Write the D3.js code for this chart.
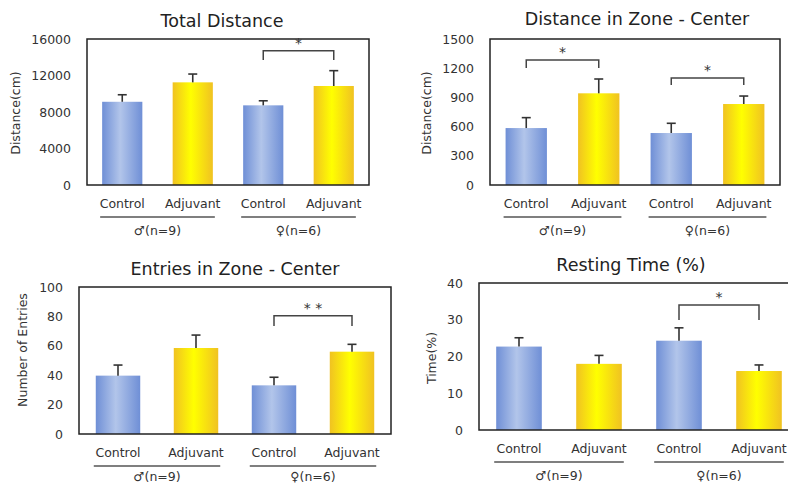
<!DOCTYPE html>
<html>
<head>
<meta charset="utf-8">
<script src="https://cdn.jsdelivr.net/npm/d3@7"></script>
<style>
  body { margin: 0; background: #fff; }
  svg { display: block; font-family: "DejaVu Sans", Verdana, sans-serif; }
</style>
</head>
<body>
<svg id="chart" width="788" height="485"></svg>
<script>
// data
const categories = ["Control", "Adjuvant", "Control", "Adjuvant"];
const groups = ["♂(n=9)", "♀(n=6)"];

const titles = ["Total Distance", "Distance in Zone - Center", "Entries in Zone - Center", "Resting Time (%)"];
const yLabels = ["Distance(cm)", "Distance(cm)", "Number of Entries", "Time(%)"];
const yMax = [16000, 1500, 100, 40];
const yStep = [4000, 300, 20, 10];

const totalDistance = [9120, 11250, 8730, 10850];
const totalDistanceErr = [770, 910, 500, 1680];
const centerDistance = [585, 942, 534, 832];
const centerDistanceErr = [107, 147, 100, 82];
const centerEntries = [39.7, 58.5, 33.1, 56];
const centerEntriesErr = [7.2, 8.8, 5.5, 5];
const restingTime = [22.7, 18.0, 24.3, 16.05];
const restingTimeErr = [2.4, 2.3, 3.5, 1.65];

// significance marks: [from bar, to bar, bracket level, leg end level, label]
const sigTotalDistance = [[2, 3, 14700, 13700, "*"]];
const sigCenterDistance = [[0, 1, 1284, 1202, "*"], [2, 3, 1099, 1027, "*"]];
const sigCenterEntries = [[2, 3, 80.5, 73.5, "* *"]];
const sigRestingTime = [[2, 3, 34, 29.9, "*"]];

const values = [totalDistance, centerDistance, centerEntries, restingTime];
const errors = [totalDistanceErr, centerDistanceErr, centerEntriesErr, restingTimeErr];
const sigs = [sigTotalDistance, sigCenterDistance, sigCenterEntries, sigRestingTime];

// panel placement
const layout = [
  {left: 87, top: 39, right: 369, bottom: 185, titleX: 222, titleY: 27, labX: 16, labY: 113},
  {left: 490, top: 39, right: 780, bottom: 185, titleX: 637, titleY: 25, labX: 427, labY: 113},
  {left: 79, top: 287, right: 391, bottom: 434, titleX: 235, titleY: 275, labX: 23, labY: 350},
  {left: 479, top: 283, right: 799, bottom: 430, titleX: 631, titleY: 271, labX: 432, labY: 358}
];

const svg = d3.select("#chart");
const defs = svg.append("defs");

function gradient(id, edge, mid) {
  const g = defs.append("linearGradient").attr("id", id)
    .attr("x1", "0%").attr("x2", "100%").attr("y1", "0%").attr("y2", "0%");
  g.append("stop").attr("offset", "0%").attr("stop-color", edge);
  g.append("stop").attr("offset", "45%").attr("stop-color", mid);
  g.append("stop").attr("offset", "100%").attr("stop-color", edge);
}
gradient("blueGrad", "#6f8fd6", "#b2c5ea");
gradient("goldGrad", "#f0c222", "#ffff00");
const fills = ["url(#blueGrad)", "url(#goldGrad)", "url(#blueGrad)", "url(#goldGrad)"];

layout.forEach((p, k) => {
  const g = svg.append("g");
  const data = values[k];
  const err = errors[k];

  const x = d3.scaleBand()
    .domain(d3.range(categories.length))
    .range([p.left, p.right])
    .paddingInner(0.43)
    .paddingOuter(0.215);
  const y = d3.scaleLinear()
    .domain([0, yMax[k]])
    .range([p.bottom, p.top]);

  // title
  g.append("text")
    .attr("x", p.titleX).attr("y", p.titleY)
    .attr("text-anchor", "middle")
    .style("font-size", "17.5px")
    .attr("fill", "#222")
    .text(titles[k]);

  // y axis labels
  const axis = g.append("g")
    .attr("transform", `translate(${p.left - 4}, 0)`)
    .call(d3.axisLeft(y)
      .tickValues(d3.range(0, yMax[k] + 1, yStep[k]))
      .tickFormat(d3.format("d"))
      .tickSize(0).tickPadding(12));
  axis.select(".domain").remove();
  axis.selectAll("text")
    .style("font-size", "12.5px")
    .style("font-family", "\"DejaVu Sans\", Verdana, sans-serif")
    .attr("fill", "#333");

  g.append("text")
    .attr("transform", `translate(${p.labX}, ${p.labY}) rotate(-90)`)
    .attr("text-anchor", "middle")
    .attr("dy", "0.35em")
    .style("font-size", "12.5px")
    .attr("fill", "#333")
    .text(yLabels[k]);

  // bars
  g.append("g").selectAll("rect")
    .data(data)
    .enter().append("rect")
      .attr("x", (d, i) => x(i))
      .attr("y", d => y(d))
      .attr("width", x.bandwidth())
      .attr("height", d => y(0) - y(d))
      .attr("fill", (d, i) => fills[i]);

  // error bars
  const eb = g.append("g").attr("stroke", "#333").attr("stroke-width", 1.6);
  data.forEach((d, i) => {
    const cx = x(i) + x.bandwidth() / 2;
    eb.append("line").attr("x1", cx).attr("x2", cx).attr("y1", y(d)).attr("y2", y(d + err[i]));
    eb.append("line").attr("x1", cx - 4.5).attr("x2", cx + 4.5).attr("y1", y(d + err[i])).attr("y2", y(d + err[i]));
  });

  // plot frame
  g.append("rect")
    .attr("x", p.left).attr("y", p.top)
    .attr("width", p.right - p.left).attr("height", p.bottom - p.top)
    .attr("fill", "none").attr("stroke", "#222").attr("stroke-width", 1.5);

  // significance brackets
  sigs[k].forEach(s => {
    const xa = x(s[0]) + x.bandwidth() / 2;
    const xb = x(s[1]) + x.bandwidth() / 2;
    g.append("path")
      .attr("d", `M${xa},${y(s[3])}V${y(s[2])}H${xb}V${y(s[3])}`)
      .attr("fill", "none").attr("stroke", "#444").attr("stroke-width", 1.5);
    g.append("text")
      .attr("x", (xa + xb) / 2).attr("y", y(s[2]) - 3)
      .attr("text-anchor", "middle")
      .style("font-size", "14px")
      .attr("fill", "#333")
      .text(s[4]);
  });

  // category labels
  g.append("g").selectAll("text")
    .data(categories)
    .enter().append("text")
      .attr("x", (d, i) => x(i) + x.bandwidth() / 2)
      .attr("y", p.bottom + 23)
      .attr("text-anchor", "middle")
      .style("font-size", "12.5px")
      .attr("fill", "#333")
      .text(d => d);

  // group lines and labels
  groups.forEach((name, j) => {
    const x0 = x(j * 2) - 2;
    const x1 = x(j * 2 + 1) + x.bandwidth() + 2;
    g.append("line")
      .attr("x1", x0).attr("x2", x1)
      .attr("y1", p.bottom + 32).attr("y2", p.bottom + 32)
      .attr("stroke", "#555").attr("stroke-width", 1.5);
    g.append("text")
      .attr("x", (x0 + x1) / 2).attr("y", Math.min(p.bottom + 50, 481))
      .attr("text-anchor", "middle")
      .style("font-size", "12.5px")
      .attr("fill", "#333")
      .text(name);
  });
});
</script>
</body>
</html>
